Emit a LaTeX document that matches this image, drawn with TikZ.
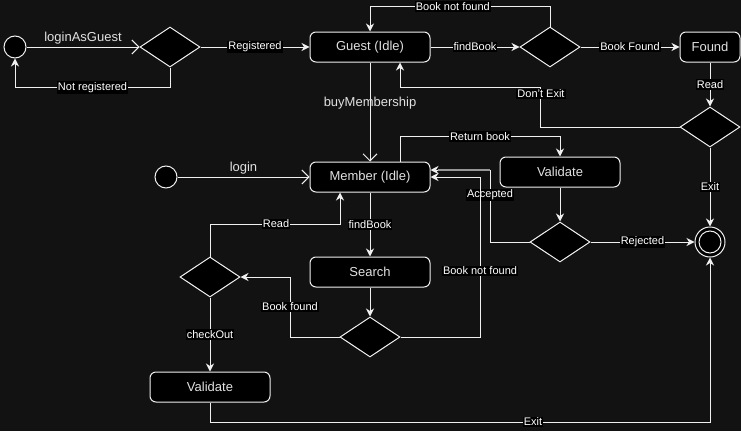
\documentclass[tikz,border=0pt]{standalone}
\usepackage{fontspec}
\setmainfont{Liberation Sans}
\usetikzlibrary{arrows.meta,shapes.geometric}
\definecolor{bg}{RGB}{18,18,18}
\definecolor{ntext}{RGB}{225,225,225}
\definecolor{ln}{RGB}{240,240,240}
\definecolor{grayln}{RGB}{150,150,150}
\begin{document}
\begin{tikzpicture}[x=1pt,y=-1pt,
  statebox/.style={draw=ln,fill=black,rounded corners=6pt,minimum width=120pt,minimum height=30pt,inner sep=0pt,font=\fontsize{13}{15}\selectfont,text=ntext,line width=1pt},
  decbox/.style={diamond,draw=ln,fill=black,minimum width=60pt,minimum height=40pt,inner sep=0pt,aspect=1.5,line width=1pt},
  startdot/.style={circle,draw=ln,fill=black,minimum size=22pt,inner sep=0pt,line width=1pt},
  edge/.style={draw=ln,line width=1pt,-{Stealth[length=8pt,width=8pt,inset=2.5pt]}},
  openedge/.style={draw=ln,line width=1pt,-{Straight Barb[length=7pt,width=14pt]}},
  lbl/.style={fill=black,text=white,inner sep=1pt,font=\fontsize{11}{12}\selectfont},
  biglbl/.style={text=ntext,inner sep=1pt,font=\fontsize{13}{15}\selectfont}
]
\fill[bg] (0,0) rectangle (741,431);
\useasboundingbox (0,0) rectangle (741,431);

% nodes
\node[startdot] (s1) at (15,47) {};
\node[decbox] (d1) at (170,47) {};
\node[statebox] (guest) at (370,47) {Guest (Idle)};
\node[decbox] (d2) at (550,47) {};
\node[statebox,minimum width=60pt] (found) at (710,47) {Found};
\node[decbox] (d3) at (710,127) {};
\node[startdot] (s2) at (166,177) {};
\node[statebox] (member) at (370,177) {Member (Idle)};
\node[statebox] (val1) at (560,172) {Validate};
\node[decbox] (d4) at (560,242) {};
\node[circle,draw=ln,fill=black,minimum size=30pt,inner sep=0pt,line width=1pt] (end) at (710,242) {};
\node[circle,draw=ln,fill=black,minimum size=22pt,inner sep=0pt,line width=1pt] (endin) at (710,242) {};
\node[statebox] (search) at (370,272) {Search};
\node[decbox] (d5) at (370,337) {};
\node[decbox] (d6) at (210,277) {};
\node[statebox] (val2) at (210,387) {Validate};

% helper coordinates
\coordinate (dx1) at (540,127);
\coordinate (dx2) at (540,87);
\coordinate (acc1) at (490,242);
\coordinate (acc2) at (490,170);
\coordinate (acc3) at (438,170);
\coordinate (bnf1) at (480,337);
\coordinate (bnf2) at (480,177);
\coordinate (bf1) at (290,337);
\coordinate (bf2) at (290,277);
\coordinate (rd1) at (210,224);
\coordinate (rd2) at (340,224);
\coordinate (ex1) at (210,422);

% edges top row
\draw[openedge] (s1) -- (d1.west) node[midway,above=1pt,biglbl] {loginAsGuest};
\draw[edge] (d1.east) -- (guest.west) node[midway,lbl] {Registered};
\draw[edge] (d1.south) -- ++(0,20) -| (s1.south) node[pos=0.25,lbl] {Not registered};
\draw[edge] (guest.east) -- (d2.west) node[midway,lbl] {findBook};
\draw[edge] (d2.north) -- ++(0,-20) -| (guest.north) node[pos=0.27,lbl] {Book not found};
\draw[edge] (d2.east) -- (found.west) node[midway,lbl] {Book Found};
\draw[edge] (found.south) -- (d3.north) node[midway,lbl] {Read};
\draw[edge] (d3.west) -- (dx1) -- (dx2) -| ([xshift=30pt]guest.south);
\node[lbl] at (541,94) {Don't Exit};
\draw[edge] (d3.south) -- (end.north) node[midway,lbl] {Exit};
\draw[openedge] (guest.south) -- (member.north) node[pos=0.41,biglbl] {buyMembership};

% member area
\draw[openedge] (s2) -- (member.west) node[midway,above=1pt,biglbl] {login};
\draw[edge] ([xshift=30pt]member.north) -- ++(0,-25) -| (val1.north) node[pos=0.25,lbl] {Return book};
\draw[edge] (val1.south) -- (d4.north);
\draw[edge] (d4.west) -- (acc1) -- (acc2) -- (acc2 -| member.east);
\draw[draw=grayln,line width=1.5pt] (acc2) -- (acc3);
\node[lbl] at (490,195) {Accepted};
\draw[edge] (d4.east) -- (end.west) node[midway,lbl] {Rejected};
\draw[edge] (member.south) -- (search.north) node[midway,lbl] {findBook};
\draw[edge] (search.south) -- (d5.north);
\draw[edge] (d5.east) -- (bnf1) -- (bnf2) -- (member.east);
\node[lbl] at (480,271) {Book not found};
\draw[edge] (d5.west) -- (bf1) -- (bf2) -- (d6.east);
\node[lbl] at (290,307) {Book found};
\draw[edge] (d6.north) -- (rd1) -- (rd2) -- (rd2 |- member.south);
\node[lbl] at (276,224) {Read};
\draw[edge] (d6.south) -- (val2.north) node[midway,lbl] {checkOut};
\draw[edge] (val2.south) -- (ex1) -| (end.south);
\node[lbl] at (533,422) {Exit};
\end{tikzpicture}
\end{document}
